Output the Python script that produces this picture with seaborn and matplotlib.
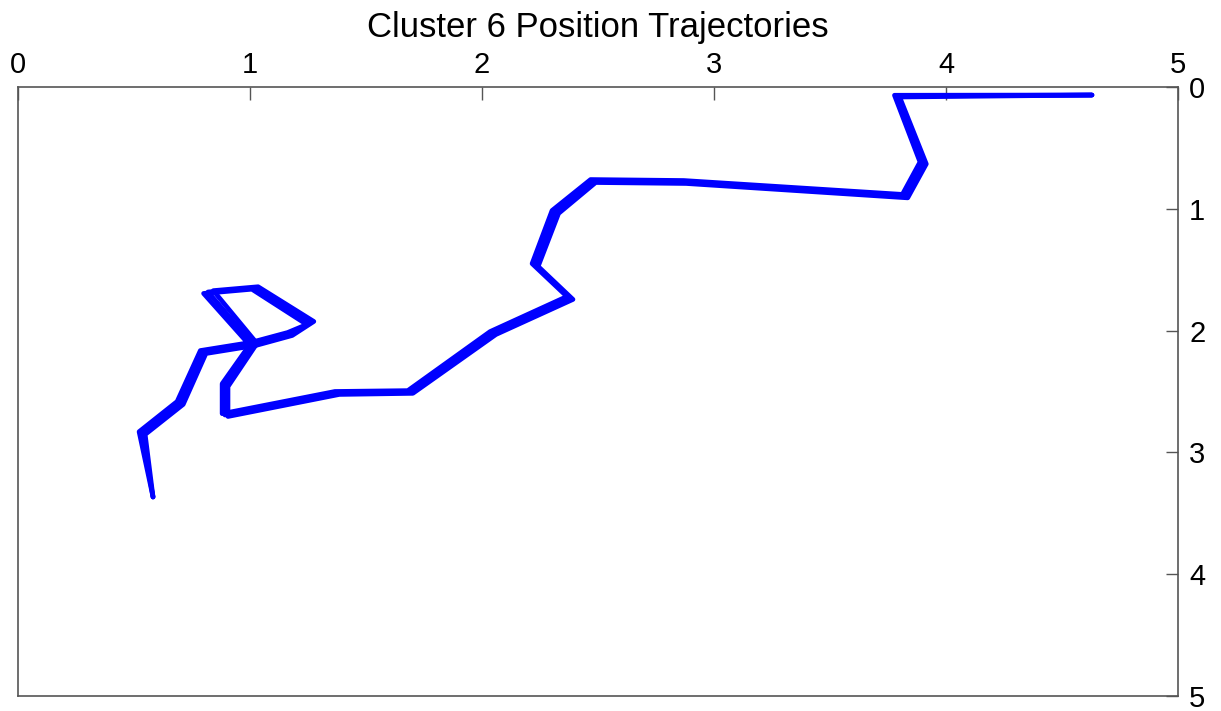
import matplotlib
matplotlib.use("Agg")
import matplotlib.pyplot as plt
import seaborn as sns
import pandas as pd

# Trajectory 1 (x, y) positions
traj1_x = [4.629, 3.789, 3.901, 3.823, 2.875, 2.478, 2.315, 2.228, 2.379, 2.047, 1.690, 1.375,
           0.892, 0.892, 1.013, 0.819, 1.022, 1.259, 1.172, 1.013, 0.797, 0.698, 0.534, 0.582]
traj1_y = [0.066, 0.074, 0.624, 0.895, 0.780, 0.772, 1.026, 1.461, 1.732, 2.020, 2.504, 2.512,
           2.693, 2.447, 2.110, 1.683, 1.650, 1.938, 2.028, 2.110, 2.176, 2.594, 2.841, 3.366]
# Trajectory 2
traj2_x = [4.629, 3.800, 3.915, 3.835, 2.880, 2.490, 2.330, 2.242, 2.392, 2.060, 1.702, 1.385,
           0.905, 0.905, 1.030, 0.842, 1.035, 1.275, 1.182, 1.025, 0.810, 0.712, 0.548, 0.582]
traj2_y = [0.066, 0.082, 0.632, 0.910, 0.792, 0.784, 1.038, 1.473, 1.744, 2.032, 2.515, 2.524,
           2.705, 2.460, 2.105, 1.672, 1.640, 1.925, 2.040, 2.122, 2.188, 2.606, 2.853, 3.366]
# Trajectory 3
traj3_x = [4.629, 3.778, 3.888, 3.812, 2.870, 2.468, 2.302, 2.216, 2.366, 2.035, 1.680, 1.366,
           0.880, 0.880, 0.998, 0.800, 1.008, 1.245, 1.162, 1.002, 0.786, 0.686, 0.522, 0.582]
traj3_y = [0.066, 0.068, 0.616, 0.882, 0.768, 0.760, 1.014, 1.450, 1.720, 2.008, 2.493, 2.500,
           2.682, 2.436, 2.118, 1.695, 1.660, 1.950, 2.016, 2.098, 2.164, 2.582, 2.830, 3.366]

x_ticks = [0, 1, 2, 3, 4, 5]
y_ticks = [0, 1, 2, 3, 4, 5]
title = "Cluster 6 Position Trajectories"

frames = []
for i, (xs, ys) in enumerate([(traj1_x, traj1_y), (traj2_x, traj2_y), (traj3_x, traj3_y)]):
    frames.append(pd.DataFrame({"x": xs, "y": ys, "traj": i, "step": range(len(xs))}))
df = pd.concat(frames, ignore_index=True)

sns.set_style("white")
plt.rcParams["font.family"] = ["Liberation Sans", "DejaVu Sans"]

fig = plt.figure(figsize=(12.21, 7.11), dpi=100)
ax = fig.add_axes([18 / 1221, 1 - 696 / 711, (1178 - 18) / 1221, (696 - 87) / 711])

sns.lineplot(data=df, x="x", y="y", units="traj", estimator=None, sort=False,
             color="#0000ff", linewidth=3.4, ax=ax, legend=False)

ax.set_xlim(0, 5)
ax.set_ylim(5, 0)
ax.set_xticks(x_ticks)
ax.set_yticks(y_ticks)
ax.set_xticklabels([str(t) for t in x_ticks])
ax.set_yticklabels([str(t) for t in y_ticks])
ax.xaxis.tick_top()
ax.yaxis.tick_right()
ax.tick_params(axis="both", direction="in", length=9, width=1, colors="#555555",
               labelcolor="black", labelsize=21, pad=6)
ax.tick_params(axis="y", pad=8)
ax.set_xlabel("")
ax.set_ylabel("")
for s in ax.spines.values():
    s.set_visible(True)
    s.set_color("#555555")
    s.set_linewidth(1.2)

fig.text((18 + 1178) / 2 / 1221, 1 - 27 / 711, title, ha="center", va="center",
         fontsize=25, color="black")

fig.savefig("out.png", dpi=100)
